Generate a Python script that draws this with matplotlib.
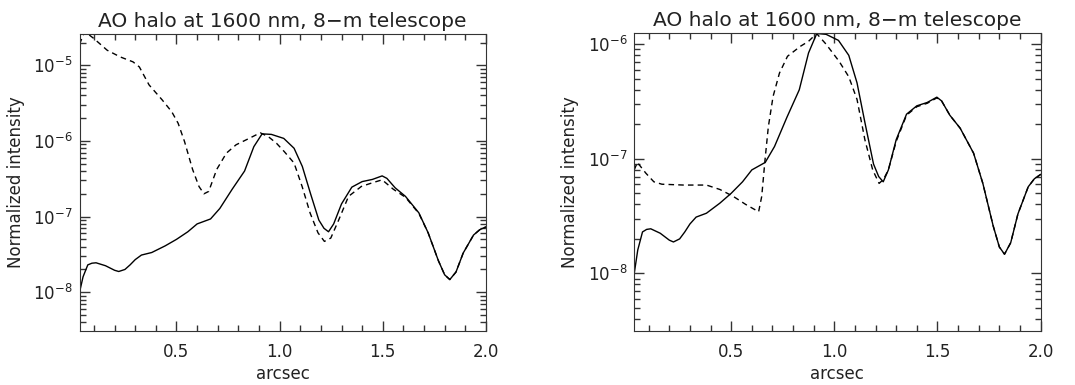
import matplotlib
matplotlib.use("Agg")
import matplotlib.pyplot as plt
from matplotlib.ticker import LogLocator, MultipleLocator, NullFormatter

# solid curve (same in both panels)
x_solid = [0.030, 0.047, 0.070, 0.090, 0.110, 0.156, 0.200, 0.220, 0.250, 0.275,
           0.300, 0.330, 0.380, 0.445, 0.500, 0.555, 0.600, 0.665, 0.710, 0.770,
           0.830, 0.875, 0.915, 0.960, 1.020, 1.070, 1.110, 1.150, 1.190, 1.215,
           1.237, 1.262, 1.300, 1.350, 1.400, 1.450, 1.497, 1.520, 1.560, 1.610,
           1.675, 1.720, 1.770, 1.800, 1.825, 1.855, 1.890, 1.940, 1.970, 2.000]
y_solid = [1.0e-8, 1.6e-8, 2.3e-8, 2.42e-8, 2.45e-8, 2.24e-8, 1.95e-8, 1.88e-8, 2.0e-8, 2.3e-8,
           2.7e-8, 3.1e-8, 3.35e-8, 4.1e-8, 5.0e-8, 6.3e-8, 8.0e-8, 9.3e-8, 1.28e-7, 2.3e-7,
           4.0e-7, 8.4e-7, 1.24e-6, 1.22e-6, 1.08e-6, 8.0e-7, 4.6e-7, 2.0e-7, 9.0e-8, 7.0e-8,
           6.3e-8, 8.0e-8, 1.47e-7, 2.45e-7, 2.9e-7, 3.1e-7, 3.45e-7, 3.2e-7, 2.4e-7, 1.85e-7,
           1.12e-7, 6.1e-8, 2.6e-8, 1.7e-8, 1.47e-8, 1.85e-8, 3.3e-8, 5.7e-8, 6.7e-8, 7.3e-8]

# dashed curve, left panel
x_dash_l = [0.030, 0.055, 0.100, 0.164, 0.227, 0.289, 0.320, 0.367, 0.430, 0.477,
            0.508, 0.539, 0.578, 0.609, 0.633, 0.656, 0.695, 0.742, 0.789, 0.852,
            0.906, 0.945, 0.985, 1.023, 1.070, 1.109, 1.148, 1.186, 1.217, 1.248,
            1.287, 1.334, 1.396, 1.450, 1.497, 1.551, 1.610, 1.675, 1.720, 1.770,
            1.800, 1.825, 1.855, 1.890, 1.940, 1.970, 2.000]
y_dash_l = [1.9e-5, 2.8e-5, 2.25e-5, 1.58e-5, 1.29e-5, 1.11e-5, 9.5e-6, 5.5e-6, 3.5e-6, 2.43e-6,
            1.71e-6, 9.8e-7, 4.2e-7, 2.5e-7, 2.0e-7, 2.15e-7, 4.2e-7, 6.9e-7, 8.9e-7, 1.08e-6,
            1.28e-6, 1.14e-6, 9.3e-7, 7.2e-7, 5.1e-7, 2.5e-7, 1.11e-7, 6.1e-8, 4.7e-8, 5.2e-8,
            9.1e-8, 1.85e-7, 2.5e-7, 2.8e-7, 3.06e-7, 2.3e-7, 1.8e-7, 1.1e-7, 6.1e-8, 2.6e-8,
            1.7e-8, 1.47e-8, 1.85e-8, 3.3e-8, 5.7e-8, 6.7e-8, 7.3e-8]

# dashed curve, right panel
x_dash_r = [0.030, 0.045, 0.086, 0.125, 0.164, 0.270, 0.380, 0.445, 0.510, 0.570,
            0.633, 0.648, 0.664, 0.680, 0.703, 0.734, 0.773, 0.836, 0.875, 0.914,
            0.960, 1.023, 1.070, 1.110, 1.148, 1.186, 1.217, 1.238, 1.262, 1.300,
            1.350, 1.400, 1.450, 1.497, 1.520, 1.560, 1.610, 1.675, 1.720, 1.770,
            1.800, 1.825, 1.855, 1.890, 1.940, 1.970, 2.000]
y_dash_r = [8.0e-8, 9.3e-8, 7.5e-8, 6.3e-8, 6.0e-8, 5.9e-8, 5.9e-8, 5.4e-8, 4.7e-8, 4.0e-8,
            3.45e-8, 4.7e-8, 9.8e-8, 1.9e-7, 3.5e-7, 5.6e-7, 7.85e-7, 9.6e-7, 1.06e-6, 1.24e-6,
            1.0e-6, 7.1e-7, 5.2e-7, 3.3e-7, 1.47e-7, 8.0e-8, 6.1e-8, 6.6e-8, 8.0e-8, 1.42e-7,
            2.4e-7, 2.85e-7, 3.05e-7, 3.4e-7, 3.2e-7, 2.4e-7, 1.85e-7, 1.12e-7, 6.1e-8, 2.6e-8,
            1.7e-8, 1.47e-8, 1.85e-8, 3.3e-8, 5.7e-8, 6.7e-8, 7.3e-8]

title = "AO halo at 1600 nm, 8\u2212m telescope"
xticks = [0.5, 1.0, 1.5, 2.0]
xticklabels = ["0.5", "1.0", "1.5", "2.0"]

plt.rcParams['font.family'] = ['DejaVu Sans']
fig = plt.figure(figsize=(10.75, 3.85), dpi=100)

panels = [
    ([0.074, 0.141, 0.378, 0.771], x_dash_l, y_dash_l, (3.1e-9, 2.6e-5)),
    ([0.590, 0.141, 0.378, 0.773], x_dash_r, y_dash_r, (3.16e-9, 1.25e-6)),
]

for rect, xd, yd, ylim in panels:
    ax = fig.add_axes(rect)
    ax.plot(x_solid, y_solid, color='black', lw=1.0)
    ax.plot(xd, yd, color='black', lw=1.0, dashes=(4, 3))
    ax.set_yscale('log')
    ax.set_xlim(0.03, 2.0)
    ax.set_ylim(*ylim)
    ax.set_xticks(xticks)
    ax.set_xticklabels(xticklabels)
    ax.xaxis.set_minor_locator(MultipleLocator(0.1))
    ax.yaxis.set_major_locator(LogLocator(base=10, numticks=20))
    ax.yaxis.set_minor_locator(LogLocator(base=10, subs=range(2, 10), numticks=20))
    ax.yaxis.set_minor_formatter(NullFormatter())
    ax.tick_params(which='both', direction='in', top=True, right=True,
                   labelsize=12, color='#333333', labelcolor='#222222')
    ax.tick_params(axis='x', which='major', pad=9)
    ax.tick_params(axis='y', which='major', pad=5)
    ax.tick_params(which='major', length=7, width=1)
    ax.tick_params(which='minor', length=4, width=1)
    for s in ax.spines.values():
        s.set_color('#333333')
    ax.set_title(title, fontsize=14.5, pad=5, color='#222222')
    ax.set_xlabel("arcsec", fontsize=12, labelpad=3, color='#222222')
    ax.set_ylabel("Normalized intensity", fontsize=12, labelpad=6, color='#222222')

fig.savefig("out.png", dpi=100)
